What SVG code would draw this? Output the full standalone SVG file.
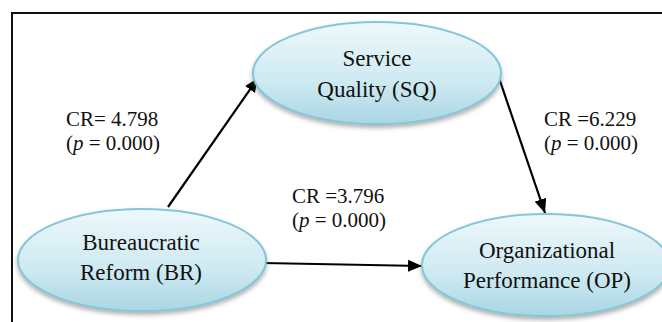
<svg xmlns="http://www.w3.org/2000/svg" width="662" height="322" viewBox="0 0 662 322">
<defs>
<linearGradient id="g" x1="0" y1="0" x2="0" y2="1">
<stop offset="0" stop-color="#eef8fb"/>
<stop offset="0.6" stop-color="#cde9f1"/>
<stop offset="1" stop-color="#a9d6e3"/>
</linearGradient>
<filter id="sh" x="-10%" y="-10%" width="120%" height="130%">
<feDropShadow dx="0" dy="3" stdDeviation="2" flood-color="#555" flood-opacity="0.45"/>
</filter>
<marker id="ah" viewBox="0 0 14 12" refX="14" refY="6" markerWidth="14" markerHeight="12" markerUnits="userSpaceOnUse" orient="auto">
<path d="M0,0 L14,6 L0,12 Z" fill="#000"/>
</marker>
</defs>
<style>
.node{fill:url(#g);stroke:#86c6d8;stroke-width:2;filter:url(#sh)}
.nt{font-family:"Liberation Serif","Times New Roman",serif;font-size:23px;fill:#111;text-anchor:middle}
.lb{font-family:"Liberation Serif","Times New Roman",serif;font-size:21px;fill:#111}
.ed{stroke:#000;stroke-width:2.2;fill:none;marker-end:url(#ah)}
</style>
<rect width="662" height="322" fill="#fff"/>
<path d="M12,322 V13 H662" fill="none" stroke="#111" stroke-width="2"/>
<g id="connectors">
<line class="ed" x1="168" y1="207" x2="258" y2="78"/>
<line class="ed" x1="498" y1="75" x2="545" y2="213"/>
<line class="ed" x1="263" y1="263" x2="422" y2="266"/>
</g>
<g id="SQ">
<ellipse class="node" cx="377" cy="73" rx="124" ry="51"/>
<text class="nt" x="377" y="66">Service</text>
<text class="nt" x="377" y="97">Quality (SQ)</text>
</g>
<g id="BR">
<ellipse class="node" cx="142" cy="260" rx="124" ry="51"/>
<text class="nt" x="141" y="250">Bureaucratic</text>
<text class="nt" x="141" y="280">Reform (BR)</text>
</g>
<g id="OP">
<ellipse class="node" cx="546" cy="265" rx="124" ry="51"/>
<text class="nt" x="547" y="258">Organizational</text>
<text class="nt" x="547" y="288">Performance (OP)</text>
</g>
<g id="labels">
<text class="lb" x="66" y="126">CR= 4.798</text>
<text class="lb" x="66" y="150">(<tspan font-style="italic">p</tspan> = 0.000)</text>
<text class="lb" x="544" y="126">CR =6.229</text>
<text class="lb" x="544" y="150">(<tspan font-style="italic">p</tspan> = 0.000)</text>
<text class="lb" x="292" y="203">CR =3.796</text>
<text class="lb" x="292" y="227">(<tspan font-style="italic">p</tspan> = 0.000)</text>
</g>
</svg>
